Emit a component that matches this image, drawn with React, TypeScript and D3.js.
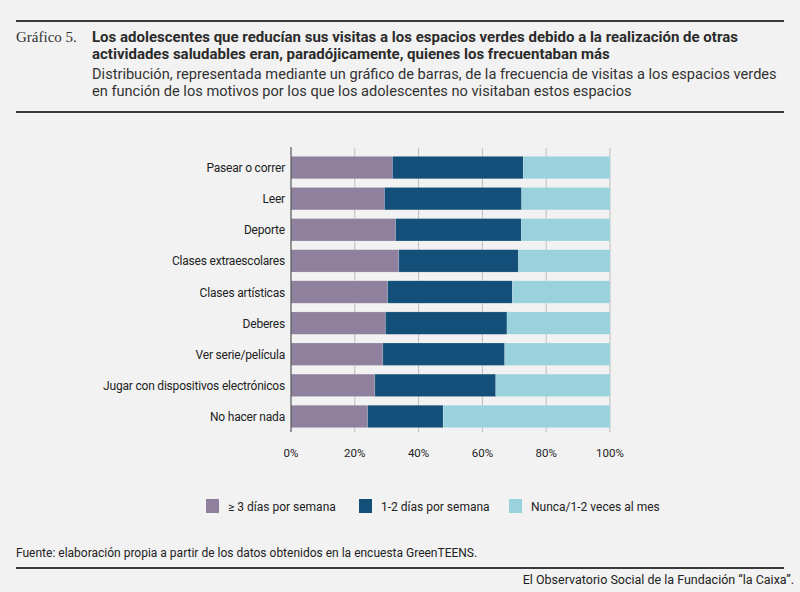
import { useEffect, useRef } from 'react'
import * as d3 from 'd3'

const categories = [
  'Pasear o correr',
  'Leer',
  'Deporte',
  'Clases extraescolares',
  'Clases artísticas',
  'Deberes',
  'Ver serie/película',
  'Jugar con dispositivos electrónicos',
  'No hacer nada',
]

// % of teens, per frequency band
const tresDias = [31.8, 29.3, 32.8, 33.8, 30.3, 29.6, 28.8, 26.3, 24.0]
const unoDosDias = [41.0, 43.0, 39.4, 37.5, 39.1, 38.1, 38.2, 37.9, 23.7]
const nunca = [27.2, 27.7, 27.8, 28.7, 30.6, 32.3, 33.0, 35.8, 52.3]

const seriesNames = ['≥ 3 días por semana', '1-2 días por semana', 'Nunca/1-2 veces al mes']
const seriesColors = ['#8f819e', '#134f78', '#99d2dd']
const xTicks = [0, 20, 40, 60, 80, 100]

const FONT = 'Roboto, "Liberation Sans", sans-serif'

export default function App() {
  const svgRef = useRef<SVGSVGElement>(null)

  useEffect(() => {
    if (!svgRef.current) return
    const svg = d3.select(svgRef.current)
    svg.selectAll('*').remove()

    const width = 800
    const height = 592

    svg.append('rect').attr('width', width).attr('height', height).attr('fill', '#f2f2f2')

    // header rules
    svg.append('line').attr('x1', 16).attr('x2', 784).attr('y1', 21).attr('y2', 21)
      .attr('stroke', '#3a3a3a').attr('stroke-width', 2)
    svg.append('line').attr('x1', 16).attr('x2', 784).attr('y1', 112).attr('y2', 112)
      .attr('stroke', '#3a3a3a').attr('stroke-width', 2)

    svg.append('text').attr('x', 16).attr('y', 42)
      .attr('font-family', '"Liberation Serif", "DejaVu Serif", serif')
      .attr('font-size', 15).attr('fill', '#333')
      .text('Gráfico 5.')

    const title = [
      'Los adolescentes que reducían sus visitas a los espacios verdes debido a la realización de otras',
      'actividades saludables eran, paradójicamente, quienes los frecuentaban más',
    ]
    title.forEach((t, i) => {
      svg.append('text').attr('x', 92).attr('y', 41.5 + i * 17.5)
        .attr('font-family', FONT).attr('font-weight', 'bold')
        .attr('font-size', 15).attr('fill', '#2b2b2b')
        .text(t)
    })
    const subtitle = [
      'Distribución, representada mediante un gráfico de barras, de la frecuencia de visitas a los espacios verdes',
      'en función de los motivos por los que los adolescentes no visitaban estos espacios',
    ]
    subtitle.forEach((t, i) => {
      svg.append('text').attr('x', 92).attr('y', 78.5 + i * 17)
        .attr('font-family', FONT)
        .attr('font-size', 14.6).attr('fill', '#333')
        .text(t)
    })

    // chart
    const left = 291
    const right = 610
    const top = 152
    const bottom = 432

    const x = d3.scaleLinear().domain([0, 100]).range([left, right])
    const y = d3.scaleBand().domain(categories).range([top, bottom]).paddingInner(0.28).paddingOuter(0.14)

    const g = svg.append('g')

    g.selectAll('.grid').data(xTicks.slice(1)).enter().append('line')
      .attr('x1', d => x(d)).attr('x2', d => x(d))
      .attr('y1', top - 4).attr('y2', bottom)
      .attr('stroke', '#bdbdbd').attr('stroke-width', 1)

    const rows = categories.map((c, i) => ({ cat: c, vals: [tresDias[i], unoDosDias[i], nunca[i]] }))
    const stacked = d3.stack<any, number>()
      .keys([0, 1, 2])
      .value((d, k) => d.vals[k])(rows)

    stacked.forEach((layer, li) => {
      g.selectAll(`.seg-${li}`).data(layer).enter().append('rect')
        .attr('x', d => x(d[0]))
        .attr('width', d => x(Math.min(100, d[1])) - x(d[0]))
        .attr('y', d => y(d.data.cat)!)
        .attr('height', y.bandwidth())
        .attr('fill', seriesColors[li])
        .attr('stroke', '#ffffff').attr('stroke-opacity', 0.25).attr('stroke-width', 0.6)
    })

    g.append('line').attr('x1', left).attr('x2', left).attr('y1', top - 5).attr('y2', bottom)
      .attr('stroke', '#555').attr('stroke-width', 1.2)

    g.selectAll('.cat').data(categories).enter().append('text')
      .attr('x', 285).attr('y', d => y(d)! + y.bandwidth() / 2 + 4.5)
      .attr('text-anchor', 'end').attr('font-family', FONT)
      .attr('font-size', 12).attr('fill', '#222').attr('letter-spacing', -0.2)
      .text(d => d)

    g.selectAll('.tick').data(xTicks).enter().append('text')
      .attr('x', d => x(d)).attr('y', 457)
      .attr('text-anchor', 'middle').attr('font-family', FONT)
      .attr('font-size', 11.5).attr('fill', '#222')
      .text(d => `${d}%`)

    // legend
    const legendX = [206, 359, 509]
    seriesNames.forEach((n, i) => {
      svg.append('rect').attr('x', legendX[i]).attr('y', 499).attr('width', 13).attr('height', 14)
        .attr('fill', seriesColors[i])
      svg.append('text').attr('x', legendX[i] + 22).attr('y', 510.5)
        .attr('font-family', FONT).attr('font-size', 12).attr('fill', '#222')
        .text(n)
    })

    // footer
    svg.append('text').attr('x', 16).attr('y', 557)
      .attr('font-family', FONT).attr('font-size', 12).attr('fill', '#222')
      .text('Fuente: elaboración propia a partir de los datos obtenidos en la encuesta GreenTEENS.')
    svg.append('line').attr('x1', 16).attr('x2', 784).attr('y1', 568).attr('y2', 568)
      .attr('stroke', '#3a3a3a').attr('stroke-width', 2)
    svg.append('text').attr('x', 794).attr('y', 584).attr('text-anchor', 'end')
      .attr('font-family', FONT).attr('font-size', 12.5).attr('fill', '#222')
      .text('El Observatorio Social de la Fundación “la Caixa”.')
  }, [])

  return (
    <svg ref={svgRef} width={800} height={592}
      style={{ position: 'absolute', left: 0, top: 0, display: 'block' }} />
  )
}
